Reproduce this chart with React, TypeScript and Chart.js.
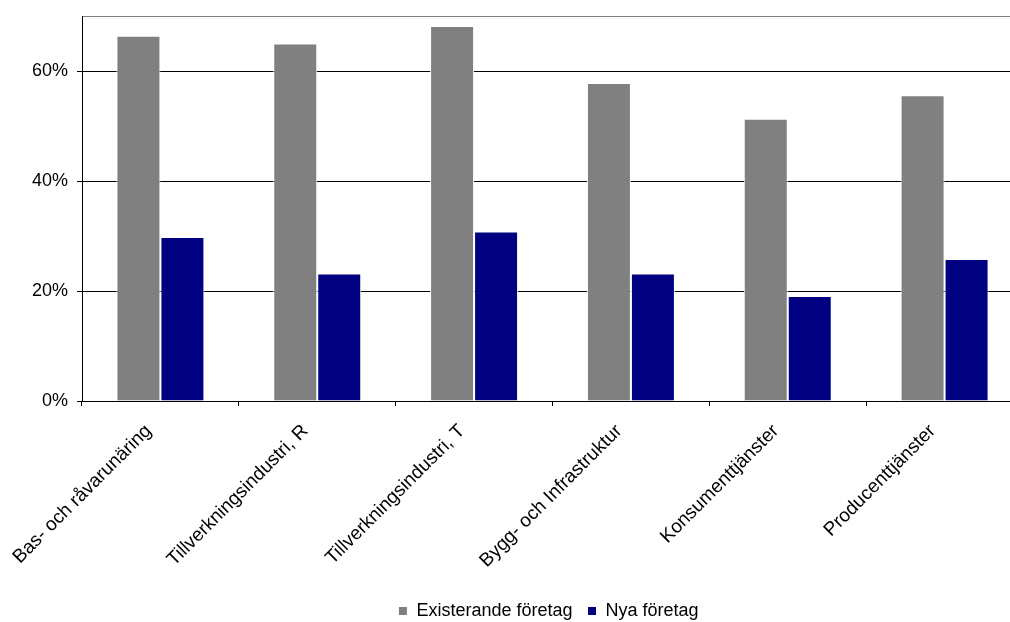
import React, { useEffect, useRef } from "react";
import { Chart, registerables } from "chart.js";

Chart.register(...registerables);

const categories = [
  "Bas- och råvarunäring",
  "Tillverkningsindustri, R",
  "Tillverkningsindustri, T",
  "Bygg- och Infrastruktur",
  "Konsumenttjänster",
  "Producenttjänster",
];
const existerande = [66.4, 65.0, 68.2, 57.8, 51.3, 55.6];
const nya = [29.8, 23.2, 30.8, 23.2, 19.1, 25.8];
const yTicks = [0, 20, 40, 60, 70];
const seriesNames = ["Existerande företag", "Nya företag"];

const FONT = "'Liberation Sans', Arial, sans-serif";
const CW = 1097;
const CH = 630;

export default function App() {
  const ref = useRef<HTMLCanvasElement | null>(null);
  useEffect(() => {
    if (!ref.current) return;
    const chart = new Chart(ref.current, {
      type: "bar",
      data: {
        labels: categories,
        datasets: [
          {
            label: seriesNames[0],
            data: existerande,
            backgroundColor: "#808080",
            borderColor: "#ffffff",
            borderWidth: 1,
            categoryPercentage: 0.561,
            barPercentage: 1,
          },
          {
            label: seriesNames[1],
            data: nya,
            backgroundColor: "#000080",
            borderColor: "#ffffff",
            borderWidth: 1,
            categoryPercentage: 0.561,
            barPercentage: 1,
          },
        ],
      },
      options: {
        responsive: false,
        animation: false,
        layout: { padding: { top: 16, left: 0, right: 0, bottom: 0 } },
        plugins: {
          tooltip: { enabled: false },
          legend: {
            position: "bottom",
            labels: {
              boxWidth: 9,
              boxHeight: 9,
              padding: 15,
              color: "#000",
              font: { family: FONT, size: 18 },
            },
          },
        },
        scales: {
          x: {
            afterFit: (s: any) => {
              s.height = 186;
            },
            grid: {
              offset: true,
              drawOnChartArea: false,
              drawTicks: true,
              tickLength: 5,
              color: "#000",
            },
            border: { color: "#000", width: 1 },
            ticks: {
              autoSkip: false,
              minRotation: 45,
              maxRotation: 45,
              padding: 14,
              labelOffset: -12,
              color: "#000",
              font: { family: FONT, size: 19 },
            },
          },
          y: {
            min: 0,
            max: 70,
            afterFit: (s: any) => {
              s.width = 82;
            },
            afterBuildTicks: (s: any) => {
              s.ticks = yTicks.map((v) => ({ value: v }));
            },
            grid: {
              color: (c: any) => (c.tick && c.tick.value === 70 ? "#808080" : "#000"),
              tickColor: (c: any) => (c.tick && c.tick.value === 70 ? "rgba(0,0,0,0)" : "#000"),
              tickLength: 5,
              lineWidth: 1,
            },
            border: { color: "#000", width: 1 },
            ticks: {
              padding: 9,
              color: "#000",
              font: (c: any) =>
                c.tick && c.tick.value === 70 ? { family: FONT, size: 1 } : { family: FONT, size: 18 },
              callback: (v: any) => (Number(v) === 70 ? "" : v + "%"),
            },
          },
          yRightSpacer: {
            type: "linear",
            position: "right",
            display: true,
            afterFit: (s: any) => {
              s.width = CW - 1023;
            },
            grid: { drawOnChartArea: false, drawTicks: false },
            border: { display: false },
            ticks: { display: false },
          },
        },
      },
    });
    return () => chart.destroy();
  }, []);
  return (
    <div
      style={{
        position: "fixed",
        left: 0,
        top: 0,
        width: 1010,
        height: 622,
        overflow: "hidden",
        background: "#fff",
      }}
    >
      <canvas ref={ref} width={CW} height={CH} style={{ width: CW, height: CH, display: "block" }} />
    </div>
  );
}
